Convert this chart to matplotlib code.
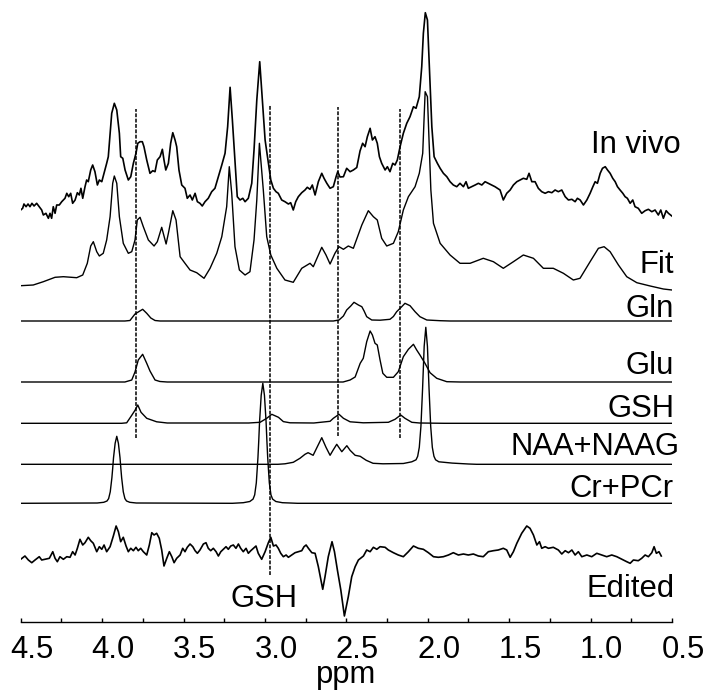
"""Edited GSH spectrum: in vivo trace, LCModel-style fit, basis components and edited difference."""
import matplotlib
matplotlib.use("Agg")
import matplotlib.pyplot as plt
import matplotlib.transforms as mtransforms
from matplotlib.ticker import MultipleLocator

plt.rcParams["font.family"] = ["Liberation Sans", "DejaVu Sans"]

# ---------- data (ppm, amplitude in a.u.) -----------------------------------

INVIVO_PPM = [
    4.500, 4.488, 4.480, 4.467, 4.455, 4.443, 4.431, 4.418, 4.402, 4.386,
    4.371, 4.361, 4.345, 4.330, 4.320, 4.310, 4.300, 4.289, 4.279, 4.263,
    4.248, 4.228, 4.217, 4.205, 4.193, 4.181, 4.166, 4.152, 4.140, 4.130,
    4.119, 4.105, 4.095, 4.085, 4.070, 4.058, 4.044, 4.029, 4.017, 4.002,
    3.988, 3.972, 3.962, 3.951, 3.941, 3.925, 3.910, 3.894, 3.886, 3.873,
    3.859, 3.839, 3.824, 3.808, 3.792, 3.781, 3.767, 3.753, 3.743, 3.726,
    3.706, 3.689, 3.675, 3.661, 3.644, 3.630, 3.620, 3.609, 3.593, 3.579,
    3.566, 3.552, 3.542, 3.528, 3.511, 3.491, 3.477, 3.460, 3.446, 3.429,
    3.415, 3.399, 3.385, 3.368, 3.348, 3.327, 3.307, 3.286, 3.265, 3.245,
    3.229, 3.214, 3.200, 3.184, 3.170, 3.153, 3.136, 3.122, 3.102, 3.081,
    3.067, 3.050, 3.032, 3.016, 2.999, 2.979, 2.964, 2.948, 2.932, 2.918,
    2.897, 2.877, 2.856, 2.842, 2.826, 2.811, 2.795, 2.774, 2.754, 2.740,
    2.723, 2.709, 2.692, 2.672, 2.651, 2.637, 2.620, 2.600, 2.580, 2.563,
    2.553, 2.539, 2.518, 2.498, 2.477, 2.457, 2.436, 2.416, 2.400, 2.385,
    2.371, 2.354, 2.340, 2.324, 2.310, 2.297, 2.283, 2.262, 2.248, 2.232,
    2.215, 2.201, 2.187, 2.170, 2.150, 2.129, 2.109, 2.088, 2.072, 2.052,
    2.037, 2.027, 2.015, 2.002, 1.990, 1.975, 1.961, 1.941, 1.924, 1.904,
    1.883, 1.863, 1.843, 1.822, 1.802, 1.781, 1.765, 1.751, 1.730, 1.709,
    1.689, 1.668, 1.648, 1.628, 1.607, 1.587, 1.556, 1.536, 1.515, 1.494,
    1.474, 1.453, 1.433, 1.413, 1.392, 1.378, 1.361, 1.341, 1.321, 1.300,
    1.279, 1.259, 1.238, 1.218, 1.198, 1.177, 1.156, 1.136, 1.115, 1.095,
    1.081, 1.064, 1.044, 1.023, 1.003, 0.986, 0.972, 0.958, 0.941, 0.927,
    0.910, 0.896, 0.880, 0.864, 0.849, 0.835, 0.819, 0.802, 0.788, 0.774,
    0.757, 0.741, 0.727, 0.707, 0.686, 0.665, 0.645, 0.624, 0.604, 0.584,
    0.569, 0.553, 0.536, 0.522, 0.501,
]
INVIVO_AMP = [
    5, 6.7, 11, 8.3, 11, 8.3, 11.7, 9, 11.7, 8.3,
    5, 0, 1.7, -3.3, 1.7, -3.3, 8.3, 1.7, 10, 10,
    13.3, 16.7, 21.7, 18.3, 21.7, 11.7, 15, 22.3, 20, 26.7,
    16.7, 28.3, 35, 33.3, 45, 50, 43.3, 30, 35, 33.3,
    41.7, 51.7, 58.3, 81.7, 101.7, 111.7, 105, 81.7, 58.3, 56.7,
    45, 35, 38.3, 51.7, 61.7, 71.7, 73.3, 73.3, 68.3, 55,
    41.7, 44.3, 43.3, 55, 58.3, 65.7, 55, 45, 51.7, 71.7,
    82.3, 75, 68.3, 45, 30, 26.7, 16.7, 20, 15, 21.7,
    13.3, 11.7, 9, 13.3, 16.7, 23.3, 26.7, 38.3, 50, 61.7,
    88.3, 127.7, 95, 55, 18.3, 15, 16.7, 13.3, 16.7, 31.7,
    65, 115, 153.3, 115, 75, 51.7, 35, 26.7, 23.3, 21.7,
    15, 13.3, 11, 12.3, 5, 13.3, 18.3, 22.3, 25, 27.7,
    25.7, 30, 20, 33.3, 41.7, 36.7, 31.7, 26.7, 28.3, 38.3,
    43.3, 38, 38.3, 46.7, 43.3, 45, 47.5, 64, 71.7, 68.3,
    78.3, 86.7, 75, 78.3, 71.7, 58.3, 51.7, 45, 48.3, 43.3,
    51.7, 50, 55, 68.3, 81.7, 91.7, 98.3, 108.3, 106.7, 118.3,
    148.3, 181.7, 202.3, 195, 148.3, 88.3, 58.3, 51.7, 46.7, 41.7,
    38.3, 33.3, 30, 28.3, 31.7, 28.3, 33.3, 26.7, 28.3, 30,
    31.7, 30, 33.3, 31.7, 30, 28.3, 25, 15, 21.7, 25,
    30, 33.3, 35, 36.7, 35.7, 41.7, 33.3, 33.3, 26.7, 23.3,
    21.7, 23.3, 22.3, 25, 23.3, 25, 18.3, 15, 15.7, 13.3,
    16.7, 15, 10, 15, 21.7, 28.3, 33.3, 31.7, 41.7, 46.7,
    48.3, 45, 41.7, 36.7, 33.3, 28.3, 25, 21.7, 18.3, 16.7,
    11.7, 15, 8.3, 6.7, 1.7, 4.3, 5.7, 3.3, 5, 0,
    5, -3.3, 4.3, 1.7, -1,
]

FIT_PPM = [
    4.500, 4.423, 4.361, 4.289, 4.238, 4.156, 4.119, 4.091, 4.070, 4.054,
    4.033, 4.017, 3.993, 3.972, 3.951, 3.935, 3.925, 3.910, 3.894, 3.870,
    3.839, 3.818, 3.798, 3.784, 3.767, 3.747, 3.716, 3.681, 3.661, 3.634,
    3.607, 3.593, 3.566, 3.546, 3.521, 3.491, 3.460, 3.419, 3.374, 3.337,
    3.296, 3.265, 3.235, 3.219, 3.204, 3.184, 3.157, 3.122, 3.092, 3.067,
    3.050, 3.034, 3.010, 2.989, 2.964, 2.927, 2.877, 2.826, 2.774, 2.723,
    2.703, 2.651, 2.625, 2.600, 2.570, 2.545, 2.518, 2.488, 2.457, 2.405,
    2.365, 2.334, 2.310, 2.283, 2.252, 2.211, 2.181, 2.150, 2.119, 2.078,
    2.052, 2.031, 2.023, 2.016, 2.002, 1.990, 1.981, 1.965, 1.924, 1.863,
    1.802, 1.740, 1.659, 1.597, 1.536, 1.474, 1.413, 1.351, 1.290, 1.229,
    1.167, 1.106, 1.065, 1.003, 0.952, 0.917, 0.880, 0.829, 0.778, 0.716,
    0.634, 0.553, 0.500,
]
FIT_AMP = [
    4.3, 5, 8.3, 12.7, 13.3, 12.3, 15, 26.7, 44, 48.3,
    38.3, 34, 36.7, 50, 73.3, 106.7, 114, 106.7, 73.3, 46.7,
    36.7, 38.3, 50, 70, 72.7, 63.3, 50, 44, 48.3, 62.7,
    46, 56.7, 79.3, 70, 33.3, 26.7, 20, 17.3, 11.7, 21.7,
    36.7, 53.3, 83.3, 123.3, 96.7, 43.3, 20, 15, 18.3, 50,
    90, 146.7, 100, 53.3, 35, 21.7, 10, 7.7, 21.7, 26.7,
    23.3, 42.7, 35, 26, 36.7, 43.3, 40.7, 44, 41.7, 65,
    79.3, 73.3, 70, 51.7, 44, 46.7, 58.3, 80, 93.3, 103.3,
    116.7, 136.7, 170, 198.3, 193.3, 140, 100, 66.7, 46.7, 35,
    26.7, 26.7, 31.7, 28.3, 21.7, 28.3, 35, 31.7, 21.7, 21.7,
    16.7, 10, 11.7, 28.3, 41.7, 43.3, 38.3, 25, 13.3, 7.3,
    4, 1, 0,
]

GLN_PPM = [4.500, 3.860, 3.829, 3.798, 3.778, 3.751, 3.726, 3.701, 3.675, 3.644,
           2.580, 2.545, 2.518, 2.498, 2.473, 2.453, 2.426, 2.405, 2.391, 2.375,
           2.344, 2.293, 2.232, 2.211, 2.191, 2.160, 2.140, 2.109, 2.078, 2.048,
           2.006, 1.924, 1.863, 0.500]
GLN_AMP = [0, 0, 0.5, 7, 9, 11.7, 7.7, 3, 0.5, 0,
           0, 1, 5, 11, 15, 18.7, 16, 14.3, 10, 4.3,
           1, 0.8, 1.7, 4.5, 9.3, 14.3, 17.7, 15.3, 9.3, 4.3,
           1, 0.3, 0, 0]

GLU_PPM = [4.500, 3.860, 3.818, 3.798, 3.778, 3.751, 3.726, 3.706, 3.675, 3.645,
           3.600, 2.520, 2.477, 2.446, 2.415, 2.396, 2.375, 2.354, 2.340, 2.324,
           2.310, 2.293, 2.276, 2.252, 2.211, 2.181, 2.150, 2.119, 2.088, 2.068,
           2.048, 2.017, 1.986, 1.945, 1.883, 1.800, 0.500]
GLU_AMP = [0, 0, 2, 10, 22, 27.7, 18.7, 11, 2, 0.5,
           0, 0, 2, 5, 18.7, 23.7, 40.3, 51, 47, 38.7,
           37, 22, 8.7, 4.7, 4.7, 10.3, 25.3, 32.7, 37.7, 32,
           27, 18.7, 9.3, 3.7, 0.3, 0, 0]

GSH_PPM = [4.500, 3.880, 3.849, 3.818, 3.798, 3.781, 3.761, 3.726, 3.665, 3.600,
           3.100, 3.030, 2.989, 2.958, 2.917, 2.887, 2.846, 2.700, 2.600, 2.580,
           2.545, 2.518, 2.477, 2.396, 2.242, 2.201, 2.166, 2.140, 2.098, 2.050,
           1.900, 0.500]
GSH_AMP = [0, 0, 0.5, 8, 13, 18.3, 11, 5, 1.5, 0.3,
           0.3, 1, 5, 9, 6, 1.7, 0.5, 0.3, 2, 5,
           9, 5, 1.5, 0.5, 1, 4, 8.3, 5, 1, 0.3,
           0, 0]

NAA_PPM = [4.500, 2.920, 2.877, 2.826, 2.785, 2.754, 2.735, 2.704, 2.680, 2.651,
           2.625, 2.600, 2.582, 2.559, 2.528, 2.497, 2.477, 2.446, 2.415, 2.378,
           2.336, 2.275, 2.150, 2.098, 2.072, 2.062, 2.052, 2.042, 2.032, 2.022,
           2.012, 2.002, 1.992, 1.982, 1.972, 1.962, 1.952, 1.932, 1.900, 1.850,
           1.750, 1.700, 0.500]
NAA_AMP = [0, 0, 0.5, 2, 6, 10, 11.6, 9, 17, 26.6,
           17, 9, 14, 20, 12.6, 18.6, 14, 9, 8, 4,
           1, 0.5, 0.8, 2.5, 4.5, 8, 17, 38, 75, 118,
           137, 118, 75, 38, 17, 8, 4.5, 2.5, 2, 1.2,
           0.3, 0, 0]

CR_PPM = [4.500, 4.030, 3.990, 3.970, 3.960, 3.950, 3.940, 3.935, 3.930, 3.920,
          3.910, 3.900, 3.890, 3.885, 3.880, 3.870, 3.860, 3.850, 3.830, 3.790,
          3.200, 3.133, 3.093, 3.073, 3.063, 3.053, 3.043, 3.038, 3.033, 3.023,
          3.013, 3.003, 2.993, 2.988, 2.983, 2.973, 2.963, 2.953, 2.933, 2.893,
          2.800, 0.500]
CR_AMP = [0, 0.3, 1, 2.3, 4.7, 11.5, 25.5, 35, 45.5, 60,
          67, 60, 45.5, 35, 25.5, 11.5, 4.7, 2.3, 1, 0.3,
          0, 0.6, 1.8, 4.2, 8.4, 20.4, 45.6, 62.4, 81.6, 108,
          120, 108, 81.6, 62.4, 45.6, 20.4, 8.4, 4.2, 1.8, 0.6,
          0, 0]

EDITED_PPM = [
    4.500, 4.474, 4.453, 4.432, 4.412, 4.386, 4.371, 4.351, 4.324, 4.303,
    4.289, 4.275, 4.259, 4.238, 4.217, 4.197, 4.181, 4.166, 4.152, 4.136,
    4.119, 4.105, 4.085, 4.070, 4.054, 4.033, 4.017, 4.002, 3.988, 3.972,
    3.951, 3.931, 3.914, 3.900, 3.886, 3.870, 3.853, 3.839, 3.824, 3.808,
    3.792, 3.778, 3.763, 3.747, 3.726, 3.710, 3.695, 3.681, 3.665, 3.649,
    3.634, 3.620, 3.603, 3.587, 3.572, 3.558, 3.542, 3.521, 3.505, 3.491,
    3.477, 3.460, 3.443, 3.429, 3.415, 3.399, 3.378, 3.362, 3.348, 3.333,
    3.317, 3.300, 3.286, 3.271, 3.256, 3.239, 3.225, 3.210, 3.194, 3.178,
    3.163, 3.149, 3.133, 3.116, 3.102, 3.087, 3.071, 3.055, 3.041, 3.020,
    2.999, 2.979, 2.964, 2.948, 2.932, 2.918, 2.903, 2.887, 2.870, 2.856,
    2.835, 2.815, 2.795, 2.774, 2.760, 2.747, 2.733, 2.712, 2.692, 2.672,
    2.645, 2.631, 2.611, 2.588, 2.573, 2.555, 2.534, 2.512, 2.488, 2.467,
    2.446, 2.426, 2.395, 2.375, 2.354, 2.334, 2.313, 2.293, 2.262, 2.242,
    2.211, 2.181, 2.150, 2.119, 2.088, 2.058, 2.027, 1.996, 1.965, 1.935,
    1.904, 1.873, 1.843, 1.812, 1.781, 1.751, 1.720, 1.689, 1.659, 1.628,
    1.597, 1.567, 1.536, 1.515, 1.494, 1.474, 1.453, 1.423, 1.392, 1.372,
    1.351, 1.330, 1.314, 1.300, 1.279, 1.259, 1.229, 1.198, 1.177, 1.156,
    1.136, 1.115, 1.095, 1.075, 1.054, 1.023, 0.993, 0.962, 0.931, 0.901,
    0.870, 0.839, 0.808, 0.778, 0.757, 0.737, 0.707, 0.686, 0.665, 0.645,
    0.624, 0.610, 0.596, 0.580, 0.566,
]
EDITED_AMP = [
    -5.3, -2, -6, -8.7, -6, -2.7, -6, -5.3, -4.3, 2.3,
    -4.3, -7.7, -2.7, -5.3, -2.7, -3.3, 2.3, -1, 5.7, 14.7,
    9, 11.3, 16.7, 13.3, 10.7, 2.3, 7.3, 4.7, 9, 2.3,
    7.3, 18, 28, 22.3, 12.3, 16.7, 8, 2.3, 5.7, 3.3,
    6.7, 3.3, 5.7, 2.3, -1, 9, 21.3, 19, 20.7, 15.7,
    4, -12, -4.3, 2.3, -2.7, -8.7, -4.3, -1, 5.7, 2.3,
    6.7, 10, 7.3, 3.3, 0.7, 4, 10, 11.3, 5.7, 3.3,
    5.7, 2.3, -2, 2.3, 4.7, 7.3, 4.7, 8, 9, 5.7,
    10, 5.7, 2.3, 5.7, 0.7, 3.3, 5.7, 8, 0.7, -5.3,
    2.3, 11.3, 16.7, 8, 9, 5.7, 0.7, -2.7, -1, -3.3,
    -1, 1.3, 2.3, 3.3, 7.3, 9, 5.7, 1.3, 0.7, -12.7,
    -35.3, -22.7, -2.7, 12.3, 2.3, -16, -36, -62, -42.7, -22.7,
    -12.7, -6, -2, 4, 2.3, 6.7, 4.7, 7.3, 6.7, 4,
    1.3, -1, -2.7, 2.3, 8, 5.7, 4.7, 1.3, -2.7, -3.3,
    -2.7, -1, 1.3, -1, 0, -1, 0, -2, -2.7, 2.3,
    3.3, 4, 5.7, 4, -3.3, 2.3, 10.7, 20.7, 28, 25.7,
    19, 9, 12.3, 5.7, 7.3, 5.7, 6.7, 4, 0, 3.3,
    1.3, 4, -1, 2.3, -2.7, -1, -2.7, 0.7, -1, -2.7,
    -1, -2.7, -5.3, -7.7, -9.3, -6, -6.7, -4.3, -1, -2.7,
    1.3, 7.3, 0.7, 2.3, -2,
]

# GSH resonance positions marked with dotted lines
GSH_MARK_PPM = [3.79, 2.97, 2.55, 2.17]

LABELS = ["In vivo", "Fit", "Gln", "Glu", "GSH", "NAA+NAAG", "Cr+PCr", "Edited"]
XTICKS = [4.5, 4.0, 3.5, 3.0, 2.5, 2.0, 1.5, 1.0, 0.5]

# ---------- layout -----------------------------------------------------------

SERIES = [
    (INVIVO_PPM, INVIVO_AMP), (FIT_PPM, FIT_AMP), (GLN_PPM, GLN_AMP),
    (GLU_PPM, GLU_AMP), (GSH_PPM, GSH_AMP), (NAA_PPM, NAA_AMP),
    (CR_PPM, CR_AMP), (EDITED_PPM, EDITED_AMP),
]
OFFSETS = [407, 332, 301, 240, 198.7, 157.7, 118.7, 68]
WIDTHS = [1.2, 1.0, 1.0, 1.0, 1.0, 1.0, 1.0, 1.2]
# (right edge in ppm, baseline height) for the trace names
LABEL_POS = [(0.450, 469), (0.487, 349), (0.487, 305), (0.487, 248),
             (0.487, 205), (0.455, 167), (0.491, 125), (0.481, 25)]
MARK_SPAN = [(184, 513), (47, 517), (186, 515), (184, 513)]
FS = 22.3

fig = plt.figure(figsize=(7.13, 6.9), dpi=100)
ax = fig.add_axes([20.7 / 713, 68 / 690, 651.3 / 713, 622 / 690])

for (ppm, amp), off, lw in zip(SERIES, OFFSETS, WIDTHS):
    ax.plot(ppm, [a + off for a in amp], color="black", lw=lw,
            solid_joinstyle="round")

for x, (y0, y1) in zip(GSH_MARK_PPM, MARK_SPAN):
    ax.plot([x, x], [y0, y1], color="black", lw=1.1, linestyle=(0, (2.5, 1)))

for text, (x, y) in zip(LABELS, LABEL_POS):
    ax.text(x, y, text, ha="right", va="baseline", fontsize=FS, clip_on=False)
ax.text(3.005, 15, "GSH", ha="center", va="baseline", fontsize=FS)

ax.set_xlim(4.5, 0.5)
ax.set_ylim(0, 622)
for side in ("top", "right", "left"):
    ax.spines[side].set_visible(False)
ax.spines["bottom"].set_linewidth(1.0)
ax.set_yticks([])
ax.xaxis.set_major_locator(MultipleLocator(0.5))
ax.xaxis.set_minor_locator(MultipleLocator(0.25))
ax.tick_params(axis="x", which="both", direction="in", length=3, width=1,
               labelbottom=False)

# tick labels sit a little right of their ticks in the original
lab_tr = mtransforms.blended_transform_factory(ax.transData, ax.transAxes) + \
    mtransforms.ScaledTranslation(11 / 100, -36 / 100, fig.dpi_scale_trans)
for v in XTICKS:
    ax.text(v, 0, f"{v:.1f}", transform=lab_tr, ha="center", va="baseline",
            fontsize=FS, clip_on=False)

fig.text(345.8 / 713, 6.5 / 690, "ppm", ha="center", va="baseline", fontsize=FS)

fig.savefig("out.png", dpi=100)
